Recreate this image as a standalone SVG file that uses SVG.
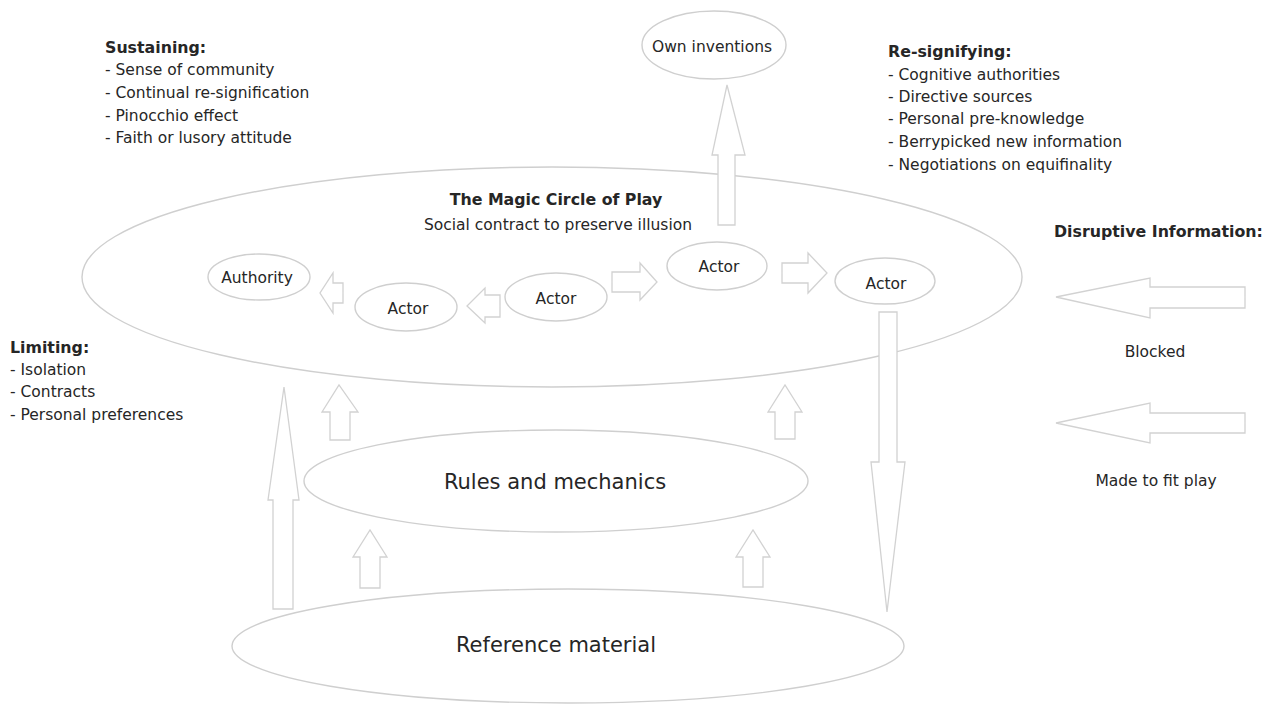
<svg xmlns="http://www.w3.org/2000/svg" width="1273" height="704" viewBox="0 0 1273 704">
  <style>
    .shape { fill: none; stroke: #cfcfcf; stroke-width: 1.4; }
    .arrow { fill: #ffffff; stroke: #d2d2d2; stroke-width: 1.3; stroke-linejoin: miter; }
    text { font-family: "DejaVu Sans", Verdana, sans-serif; fill: #262626; }
    .h { font-weight: bold; font-size: 15.8px; }
    .t { font-size: 15.5px; }
    .big { font-size: 21px; }
    .mid { text-anchor: middle; }
  </style>
  <rect width="1273" height="704" fill="#ffffff"/>

  <!-- side notes -->
  <g id="sustaining">
    <text class="h" x="105" y="53">Sustaining:</text>
    <text class="t" x="105" y="75">- Sense of community</text>
    <text class="t" x="105" y="98">- Continual re-signification</text>
    <text class="t" x="105" y="121">- Pinocchio effect</text>
    <text class="t" x="105" y="143">- Faith or lusory attitude</text>
  </g>
  <g id="resignifying">
    <text class="h" x="888" y="57">Re-signifying:</text>
    <text class="t" x="888" y="80">- Cognitive authorities</text>
    <text class="t" x="888" y="102">- Directive sources</text>
    <text class="t" x="888" y="124">- Personal pre-knowledge</text>
    <text class="t" x="888" y="147">- Berrypicked new information</text>
    <text class="t" x="888" y="170">- Negotiations on equifinality</text>
  </g>
  <g id="limiting">
    <text class="h" x="10" y="353">Limiting:</text>
    <text class="t" x="10" y="375">- Isolation</text>
    <text class="t" x="10" y="397">- Contracts</text>
    <text class="t" x="10" y="420">- Personal preferences</text>
  </g>
  <g id="disruptive">
    <text class="h" x="1054" y="237">Disruptive Information:</text>
    <text class="t mid" x="1155" y="357">Blocked</text>
    <text class="t mid" x="1156" y="486">Made to fit play</text>
  </g>

  <!-- nodes -->
  <g id="magic-circle">
    <ellipse class="shape" cx="552" cy="277" rx="470" ry="110"/>
    <text class="h mid" x="556" y="205">The Magic Circle of Play</text>
    <text class="t mid" x="558" y="230">Social contract to preserve illusion</text>
  </g>
  <g id="own-inventions">
    <ellipse class="shape" cx="714" cy="45" rx="72" ry="34"/>
    <text class="t mid" x="712" y="52">Own inventions</text>
  </g>
  <g id="authority">
    <ellipse class="shape" cx="259" cy="277" rx="51" ry="23"/>
    <text class="t mid" x="257" y="283">Authority</text>
  </g>
  <g id="actor-1">
    <ellipse class="shape" cx="406" cy="307" rx="51" ry="24"/>
    <text class="t mid" x="408" y="314">Actor</text>
  </g>
  <g id="actor-2">
    <ellipse class="shape" cx="556" cy="297" rx="51" ry="24"/>
    <text class="t mid" x="556" y="304">Actor</text>
  </g>
  <g id="actor-3">
    <ellipse class="shape" cx="717" cy="266" rx="50" ry="24"/>
    <text class="t mid" x="719" y="272">Actor</text>
  </g>
  <g id="actor-4">
    <ellipse class="shape" cx="885" cy="281" rx="50" ry="23"/>
    <text class="t mid" x="886" y="289">Actor</text>
  </g>
  <g id="rules">
    <ellipse class="shape" cx="556" cy="481" rx="252" ry="51"/>
    <text class="big mid" x="555" y="489">Rules and mechanics</text>
  </g>
  <g id="reference">
    <ellipse class="shape" cx="568" cy="646" rx="336" ry="57"/>
    <text class="big mid" x="556" y="652">Reference material</text>
  </g>

  <!-- connectors: block arrows -->
  <g id="connectors">
    <!-- magic circle up to own inventions -->
    <polygon class="arrow" points="718,225 718,155 712,155 727,85 745,155 735,155 735,225"/>
    <!-- actor chain -->
    <polygon class="arrow" points="343,283 333,283 333,273 320,293 333,313 333,303 343,303"/>
    <polygon class="arrow" points="500,295 485,295 485,288 467,306 485,323 485,317 500,317"/>
    <polygon class="arrow" points="612,272 640,272 640,263 657,282 640,300 640,292 612,292"/>
    <polygon class="arrow" points="782,263 808,263 808,253 827,273 808,293 808,283 782,283"/>
    <!-- actor down to reference material -->
    <polygon class="arrow" points="879,312 897,312 897,462 905,462 887,612 871,462 879,462"/>
    <!-- reference material up to magic circle -->
    <polygon class="arrow" points="273,609 293,609 293,500 299,500 284,387 268,500 273,500"/>
    <!-- rules up to magic circle -->
    <polygon class="arrow" points="330,440 350,440 350,412 358,412 339,385 322,412 330,412"/>
    <polygon class="arrow" points="775,439 795,439 795,412 802,412 785,385 768,412 775,412"/>
    <!-- reference material up to rules -->
    <polygon class="arrow" points="360,588 380,588 380,557 387,557 370,530 353,557 360,557"/>
    <polygon class="arrow" points="743,587 763,587 763,557 770,557 753,530 736,557 743,557"/>
    <!-- disruptive information -->
    <polygon class="arrow" points="1245,287 1150,287 1150,278 1056,297 1150,318 1150,308 1245,308"/>
    <polygon class="arrow" points="1245,413 1150,413 1150,403 1056,423 1150,443 1150,433 1245,433"/>
  </g>
</svg>
